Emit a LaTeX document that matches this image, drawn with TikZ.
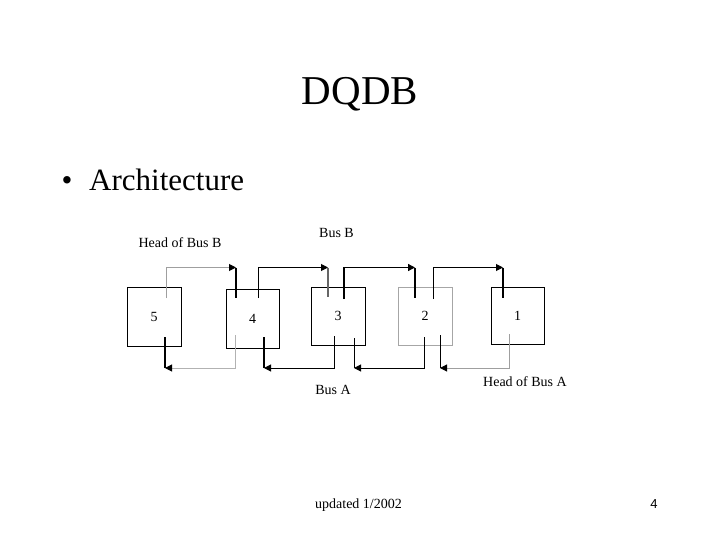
\documentclass[tikz,border=0pt]{standalone}
\usepackage{fontspec}
\setmainfont{Liberation Serif}
\newfontfamily\footsans{Liberation Sans}
\usetikzlibrary{arrows.meta}
\begin{document}
\begin{tikzpicture}[x=1pt,y=-1pt,
  stationbox/.style={draw, line width=0.9pt, inner sep=0pt, font=\fontsize{14}{16}\selectfont},
  busline/.style={line width=1pt, -{Triangle[length=7pt,width=7pt,color=black]}},
  stub/.style={line width=1.3pt},
  lbl/.style={font=\fontsize{14}{16}\selectfont, inner sep=0pt}]
\useasboundingbox (0,0) rectangle (720,540);
% titles
\node[anchor=base, font=\fontsize{41}{45}\selectfont, inner sep=0pt] (title) at (360,105) {DQDB};
\node[anchor=base, font=\fontsize{31}{35}\selectfont, inner sep=0pt] (bullet) at (67,191) {•};
\node[anchor=base west, font=\fontsize{31}{35}\selectfont, inner sep=0pt] (arch) at (89,191) {Architecture};
% stations
\node[stationbox, minimum width=54pt, minimum height=59pt] (b5) at (154,316.5) {5};
\node[stationbox, minimum width=53pt, minimum height=59pt] (b4) at (252.5,318.5) {4};
\node[stationbox, minimum width=54pt, minimum height=58pt] (b3) at (338,316) {3};
\node[stationbox, draw=gray!70, minimum width=54pt, minimum height=58pt] (b2) at (425,316) {2};
\node[stationbox, minimum width=53pt, minimum height=57pt] (b1) at (517.5,315.5) {1};
% bus levels
\coordinate (busB) at (0,267.5);
\coordinate (busA) at (0,368);
% Bus B taps
\coordinate (t5o) at (166,298);
\coordinate (t4i) at (236,298);
\coordinate (t4o) at (258,298);
\coordinate (t3i) at (328,297);
\coordinate (t3o) at (344,299);
\coordinate (t2i) at (415,298);
\coordinate (t2o) at (433,299);
\coordinate (t1i) at (503,298);
% Bus A taps
\coordinate (a1o) at (509,334);
\coordinate (a2i) at (440,335);
\coordinate (a2o) at (424,337);
\coordinate (a3i) at (354,338);
\coordinate (a3o) at (334,336);
\coordinate (a4i) at (264,337);
\coordinate (a4o) at (235,335);
\coordinate (a5i) at (165,337);
% Bus B
\draw[busline, draw=gray!75] (t5o) |- (t4i |- busB);
\draw[stub] (t4i |- busB) -- (t4i);
\draw[busline] (t4o) |- (t3i |- busB);
\draw[stub, draw=gray!80!black] (t3i |- busB) -- (t3i);
\draw[busline, stub] (t3o) |- (t2i |- busB);
\draw[stub] (t2i |- busB) -- (t2i);
\draw[busline] (t2o) |- (t1i |- busB);
\draw[stub] (t1i |- busB) -- (t1i);
% Bus A
\draw[busline, draw=gray!75] (a1o) |- (a2i |- busA);
\draw[line width=1pt] (a2i |- busA) -- (a2i);
\draw[busline] (a2o) |- (a3i |- busA);
\draw[line width=1pt] (a3i |- busA) -- (a3i);
\draw[busline] (a3o) |- (a4i |- busA);
\draw[stub] (a4i |- busA) -- (a4i);
\draw[busline, draw=gray!60] (a4o) |- (a5i |- busA);
\draw[stub] (a5i |- busA) -- (a5i);
% labels
\node[lbl] (hb) at (180,243) {Head of Bus B};
\node[lbl] (bb) at (336.5,233) {Bus B};
\node[lbl] (ba) at (333,390) {Bus A};
\node[lbl] (ha) at (525,382) {Head of Bus A};
% footer
\node[anchor=base, font=\fontsize{14}{16}\selectfont, inner sep=0pt] (upd) at (358.5,508) {updated 1/2002};
\node[anchor=base, font=\footsans\fontsize{13}{15}\selectfont, inner sep=0pt] (pg) at (654,508) {4};
\end{tikzpicture}
\end{document}
